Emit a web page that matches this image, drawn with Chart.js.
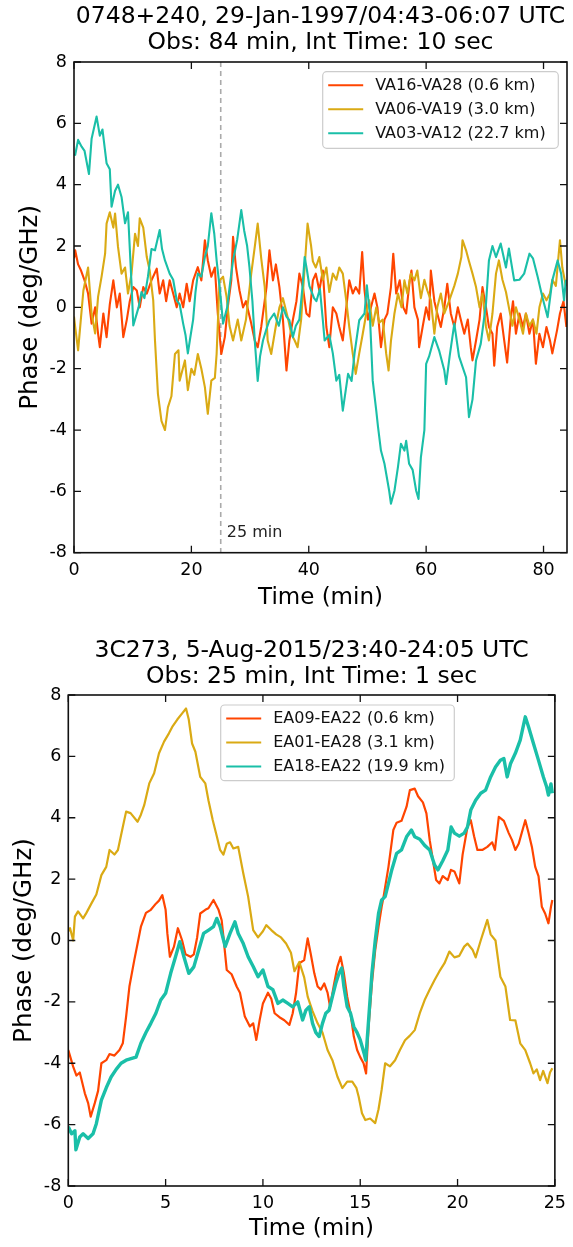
<!DOCTYPE html>
<html>
<head>
<meta charset="utf-8">
<script src="https://cdn.jsdelivr.net/npm/chart.js@4.4.1/dist/chart.umd.min.js"></script>
<style>
  html, body { margin: 0; padding: 0; background: #fff; }
  .panel { position: absolute; left: 0; width: 573px; }
  #panel-top { top: 0; height: 620px; }
  #panel-bottom { top: 620px; height: 627px; }
</style>
</head>
<body>
<div class="panel" id="panel-top"><canvas id="chart-top"></canvas></div>
<div class="panel" id="panel-bottom"><canvas id="chart-bottom"></canvas></div>
<script>
// ---- data: [time (min), phase (deg/GHz)] ----

// 0748+240, 1997 (VLA)
const va16va28 = [[0,1.6],[0.2,1.86],[0.7,1.4],[1.2,1.2],[1.8,0.88],[2.4,0.45],[3.0,-0.53],[3.6,0.0],[4.1,-0.86],[4.4,-1.3],[5.0,-0.2],[5.55,-0.97],[6.1,0.1],[6.7,0.88],[7.3,0.0],[7.8,0.45],[8.4,-0.97],[9.0,-0.4],[9.5,0.2],[10.1,0.66],[10.7,0.55],[11.2,0.0],[11.8,0.66],[12.4,0.45],[13.2,0.88],[14.1,1.26],[14.6,0.45],[15.2,0.88],[15.7,0.2],[16.3,0.88],[16.9,0.45],[17.5,0.0],[18.0,0.45],[18.6,0.0],[19.2,0.77],[19.7,0.2],[20.3,0.88],[21.1,1.31],[21.7,0.88],[22.3,2.19],[22.8,1.53],[23.4,1.0],[24.0,1.3],[24.5,-0.2],[25.1,-1.52],[25.7,-0.97],[26.2,0.0],[26.8,0.88],[27.1,2.3],[27.6,1.3],[28.2,0.55],[28.8,0.0],[29.3,0.2],[30.2,-0.53],[30.8,-1.08],[31.3,-1.3],[31.9,-0.64],[32.8,0.66],[33.3,1.86],[33.9,0.88],[34.4,1.4],[35.0,0.66],[35.6,-0.4],[36.2,-2.06],[36.7,-1.08],[37.3,-0.4],[37.9,0.2],[38.4,1.1],[39.0,0.66],[39.6,-0.2],[40.1,-0.3],[40.7,0.88],[41.2,1.1],[41.8,0.55],[42.4,1.2],[43.0,-0.64],[43.5,-1.3],[44.1,0.0],[44.7,-0.2],[45.2,-0.64],[45.8,-1.08],[46.4,0.0],[46.9,0.88],[47.5,0.45],[48.0,0.66],[48.6,0.45],[49.1,1.8],[49.5,0.55],[50.1,-0.4],[50.6,0.0],[51.2,0.45],[51.7,0.0],[52.3,-1.3],[52.9,-0.4],[53.4,-0.2],[54.0,0.66],[54.4,1.75],[54.9,0.45],[55.5,0.88],[56.1,0.0],[56.6,-0.2],[57.2,0.88],[57.5,1.2],[58.0,0.0],[58.6,-0.4],[58.8,-1.3],[59.4,-0.64],[60.0,0.0],[60.5,-0.4],[60.8,1.2],[61.4,0.2],[61.9,-0.2],[62.5,-0.64],[63.1,0.0],[63.6,0.77],[64.2,-0.2],[64.8,-0.64],[65.4,0.0],[65.9,-0.4],[66.5,-0.86],[67.1,-0.4],[67.6,-1.3],[67.9,-1.73],[68.5,-1.08],[69.1,-0.4],[69.6,0.66],[70.2,0.0],[70.7,-0.64],[71.3,-0.86],[71.6,-1.9],[72.1,-0.64],[72.7,-0.2],[73.3,-1.08],[73.8,-1.8],[74.4,-0.4],[74.8,0.2],[75.3,-0.86],[75.9,-0.2],[76.5,-0.64],[77.0,-0.2],[77.6,-0.86],[78.2,-0.4],[78.7,-1.84],[79.3,-0.86],[79.9,-1.3],[80.5,-0.64],[81.1,-1.08],[81.5,-1.5],[82.3,-0.75],[82.8,-0.2],[83.4,0.2],[83.9,-0.64]];

const va06va19 = [[0,-0.3],[0.2,-0.64],[0.7,-1.4],[1.6,0.55],[2.4,1.3],[3.0,-0.2],[3.6,-0.85],[4.1,0.34],[4.7,1.0],[5.3,1.75],[5.55,2.73],[6.1,3.1],[6.7,2.6],[7.0,3.06],[7.5,1.97],[8.1,1.1],[8.7,1.3],[9.2,0.45],[9.8,1.1],[10.4,2.4],[10.9,2.0],[11.2,2.9],[11.8,2.6],[12.4,1.64],[12.9,1.2],[13.5,0.23],[13.8,-1.08],[14.3,-2.82],[14.9,-3.7],[15.5,-4.0],[16.0,-3.26],[16.6,-2.9],[17.2,-1.52],[17.8,-1.4],[18.0,-2.39],[18.9,-1.73],[19.4,-2.7],[20.0,-2.0],[20.5,-2.2],[21.1,-1.52],[21.7,-2.0],[22.3,-2.6],[22.8,-3.47],[23.4,-2.39],[24.0,-2.3],[24.3,-1.52],[24.8,0.88],[25.4,1.0],[26.0,0.34],[26.5,-0.6],[27.1,-1.08],[27.9,-0.4],[28.5,-1.08],[29.3,-0.4],[30.2,1.1],[30.8,1.97],[31.3,2.73],[31.9,1.6],[32.5,0.66],[33.0,-1.08],[33.6,-1.52],[34.4,-0.6],[35.0,0.0],[35.6,0.3],[36.5,-0.4],[37.0,-0.86],[37.6,-1.08],[38.1,-1.3],[38.7,-0.4],[39.3,1.3],[39.8,2.73],[40.4,2.0],[40.7,1.5],[41.2,1.3],[41.8,1.64],[42.4,0.9],[43.0,1.3],[43.5,0.5],[44.1,1.1],[44.7,0.9],[45.2,1.3],[45.8,1.1],[46.4,0.2],[46.9,-0.64],[47.5,-1.52],[48.0,-2.17],[48.6,-1.5],[49.2,-0.86],[49.8,-0.2],[50.3,0.23],[50.9,-0.6],[51.5,0.0],[52.0,-0.5],[52.6,-0.4],[53.2,-1.52],[53.6,-2.06],[54.0,-1.1],[54.6,-0.2],[55.2,0.45],[55.8,0.0],[56.3,0.88],[56.8,0.45],[57.4,1.1],[58.0,0.88],[58.5,1.2],[59.1,0.3],[59.7,0.9],[60.2,0.55],[60.8,0.23],[61.4,-0.86],[61.9,0.0],[62.5,0.45],[63.1,-0.2],[63.9,0.2],[64.8,0.7],[65.4,1.1],[66.0,1.64],[66.2,2.19],[66.8,1.86],[67.3,1.5],[67.9,1.1],[68.5,0.66],[69.1,0.0],[69.6,0.45],[70.2,-0.64],[70.7,-1.08],[71.3,-0.2],[71.9,1.1],[72.4,1.53],[73.0,0.9],[73.6,0.5],[74.1,0.0],[74.7,-0.6],[75.3,0.0],[75.9,-0.4],[76.5,-0.86],[77.0,-0.2],[77.6,-0.6],[78.2,-0.4],[78.8,-0.86],[79.3,0.0],[79.9,0.45],[80.5,0.23],[81.1,0.45],[81.5,0.9],[82.1,0.7],[82.8,2.19],[83.2,1.3],[83.8,0.7]];

const va03va12 = [[0,5.0],[0.2,4.97],[0.7,5.46],[1.3,5.24],[1.8,5.1],[2.55,4.35],[3.0,5.5],[3.85,6.22],[4.4,5.6],[4.85,5.8],[5.55,4.7],[6.1,4.5],[6.4,3.28],[7.0,3.8],[7.5,4.0],[8.1,3.6],[8.7,2.74],[9.2,3.1],[9.8,0.78],[10.1,-0.59],[11.0,0.0],[11.5,0.5],[12.0,0.3],[12.6,1.0],[13.2,1.9],[13.8,1.86],[14.6,2.52],[15.0,1.9],[15.5,1.53],[16.3,1.1],[16.9,0.9],[17.5,0.23],[18.0,0.1],[18.6,-0.53],[19.0,-0.9],[19.4,-1.5],[19.8,-1.0],[20.3,-0.4],[20.7,0.5],[21.1,1.1],[21.7,1.0],[22.3,1.64],[22.8,2.0],[23.4,3.07],[23.9,2.4],[24.3,1.53],[24.9,0.5],[25.4,-0.53],[26.1,0.0],[26.6,0.8],[27.1,1.53],[27.8,2.2],[28.5,3.17],[29.0,2.5],[29.5,2.0],[29.9,1.3],[30.4,0.2],[30.8,-1.08],[31.3,-2.4],[31.7,-1.6],[32.2,-1.08],[32.8,-0.7],[33.3,-0.42],[34.1,-0.2],[34.9,-0.6],[35.6,0.0],[36.2,-0.3],[36.7,-0.42],[37.3,-0.97],[37.8,-0.6],[38.4,-0.4],[38.9,0.6],[39.3,1.64],[39.7,1.2],[40.1,0.7],[40.9,0.3],[41.3,0.2],[41.9,0.6],[42.4,-0.42],[42.7,-1.08],[43.5,-0.9],[44.1,-1.5],[44.7,-2.39],[45.2,-2.2],[45.8,-3.37],[46.7,-2.17],[47.3,-2.4],[47.8,-1.5],[48.6,-0.42],[49.5,-0.2],[49.9,0.72],[50.4,-0.2],[50.9,-2.39],[51.5,-3.37],[51.8,-3.9],[52.3,-4.67],[52.9,-5.1],[53.7,-5.98],[54.0,-6.4],[54.6,-5.98],[55.2,-5.2],[55.7,-4.45],[56.3,-4.67],[56.6,-4.35],[57.1,-5.1],[57.7,-5.3],[58.3,-5.98],[58.7,-6.25],[59.1,-4.9],[59.7,-4.0],[60.0,-1.84],[60.5,-1.6],[61.4,-0.97],[62.2,-1.4],[63.1,-2.06],[63.4,-2.5],[64.0,-1.6],[64.8,-0.53],[65.6,-1.6],[66.8,-2.28],[67.3,-3.58],[67.9,-3.0],[68.5,-1.73],[69.3,-1.19],[70.2,0.12],[70.7,1.53],[71.3,2.0],[71.9,1.64],[72.7,2.08],[73.6,1.3],[74.1,1.92],[75.0,0.88],[75.9,0.9],[76.7,1.1],[77.6,1.75],[78.2,1.6],[79.0,1.0],[79.8,0.34],[80.7,-0.32],[81.5,0.88],[82.4,1.53],[83.0,1.1],[83.5,0.23],[83.8,0.9]];

// 3C273, 2015 (VLA, EA antennas)
const ea09ea22 = [[0,-3.57],[0.25,-4.11],[0.42,-4.4],[0.59,-4.3],[0.85,-4.98],[1.02,-5.3],[1.15,-5.74],[1.36,-5.3],[1.53,-4.9],[1.7,-4.0],[1.95,-3.9],[2.12,-3.7],[2.37,-3.75],[2.63,-3.57],[2.8,-3.35],[2.97,-2.48],[3.14,-1.5],[3.39,-0.64],[3.56,-0.1],[3.73,0.45],[3.99,0.9],[4.24,1.0],[4.5,1.2],[4.66,1.3],[4.83,1.48],[5.0,1.0],[5.09,0.23],[5.22,-0.53],[5.43,-0.2],[5.63,0.4],[5.85,0.0],[6.02,-0.45],[6.28,-0.53],[6.45,-0.45],[6.62,0.1],[6.78,0.88],[7.04,1.0],[7.2,1.05],[7.46,1.32],[7.72,1.0],[7.88,0.66],[7.97,0.12],[8.14,-0.96],[8.39,-1.1],[8.65,-1.5],[8.82,-1.7],[9.07,-2.48],[9.33,-2.8],[9.5,-2.7],[9.66,-3.24],[9.83,-2.6],[10.0,-2.05],[10.26,-1.7],[10.43,-1.9],[10.6,-2.37],[10.85,-2.5],[11.1,-2.6],[11.36,-2.75],[11.53,-2.37],[11.7,-1.72],[11.87,-0.74],[12.12,-0.64],[12.3,0.07],[12.46,-0.45],[12.64,-1.07],[12.81,-1.5],[12.98,-1.6],[13.15,-1.4],[13.32,-1.7],[13.45,-2.16],[13.66,-1.4],[13.83,-0.85],[13.99,-0.53],[14.16,-1.07],[14.33,-1.83],[14.5,-2.37],[14.67,-3.13],[14.84,-3.57],[15.0,-3.8],[15.17,-4.0],[15.3,-4.33],[15.43,-2.81],[15.6,-1.4],[15.77,-0.31],[15.94,0.45],[16.1,1.1],[16.2,1.43],[16.45,2.4],[16.7,3.6],[16.87,3.84],[17.12,3.9],[17.38,4.36],[17.55,4.9],[17.8,4.95],[17.97,4.7],[18.22,4.5],[18.4,4.14],[18.57,3.27],[18.74,2.6],[18.9,1.97],[19.07,1.86],[19.24,2.1],[19.5,1.97],[19.66,2.3],[19.84,2.25],[20.09,1.86],[20.26,2.8],[20.51,3.7],[20.68,3.92],[20.85,3.4],[21.02,2.95],[21.27,2.95],[21.53,3.05],[21.78,3.2],[21.92,2.95],[22.12,4.03],[22.38,3.9],[22.63,3.5],[22.8,3.27],[22.97,2.95],[23.14,3.15],[23.48,3.92],[23.65,3.5],[23.82,3.05],[23.99,2.4],[24.16,2.1],[24.33,1.1],[24.5,0.88],[24.67,0.56],[24.8,1.1],[24.87,1.32]];

const ea01ea28 = [[0,0.3],[0.09,0.4],[0.25,0.0],[0.34,0.78],[0.5,0.95],[0.76,0.72],[0.93,0.9],[1.19,1.21],[1.44,1.5],[1.7,2.13],[1.95,2.4],[2.12,2.95],[2.37,2.8],[2.55,2.95],[2.8,3.7],[2.97,4.2],[3.2,4.15],[3.56,3.87],[3.73,4.1],[3.9,4.41],[4.16,5.12],[4.41,5.45],[4.66,6.1],[4.92,6.48],[5.17,6.75],[5.34,6.96],[5.6,7.2],[5.85,7.4],[6.05,7.56],[6.19,7.2],[6.36,6.42],[6.53,6.15],[6.78,5.33],[7.04,5.12],[7.2,4.57],[7.42,3.93],[7.63,3.4],[7.8,2.95],[7.97,2.8],[8.14,3.15],[8.31,3.2],[8.48,3.0],[8.73,3.05],[8.99,2.19],[9.24,1.43],[9.5,0.34],[9.75,0.1],[10.0,0.3],[10.17,0.5],[10.43,0.34],[10.68,0.2],[10.93,0.1],[11.19,-0.1],[11.44,-0.4],[11.62,-1.0],[11.87,-0.7],[12.12,-1.2],[12.3,-1.83],[12.55,-2.3],[12.81,-2.7],[13.06,-3.0],[13.32,-3.57],[13.57,-3.9],[13.83,-4.44],[14.08,-4.81],[14.33,-4.6],[14.59,-4.6],[14.8,-4.8],[14.92,-5.09],[15.09,-5.63],[15.26,-5.85],[15.51,-5.8],[15.77,-5.95],[15.94,-5.5],[16.1,-4.87],[16.28,-4.0],[16.53,-4.1],[16.79,-3.9],[17.04,-3.57],[17.3,-3.25],[17.55,-3.1],[17.8,-2.92],[18.06,-2.37],[18.31,-1.94],[18.57,-1.6],[18.82,-1.29],[19.07,-1.0],[19.33,-0.74],[19.58,-0.36],[19.84,-0.55],[20.09,-0.5],[20.34,-0.2],[20.51,-0.1],[20.77,-0.3],[20.93,-0.55],[21.19,0.0],[21.36,0.34],[21.53,0.67],[21.7,0.2],[21.95,0.0],[22.2,-1.18],[22.46,-1.5],[22.7,-2.59],[22.97,-2.6],[23.22,-3.35],[23.48,-3.57],[23.73,-4.0],[23.9,-4.33],[24.07,-4.2],[24.24,-4.55],[24.4,-4.25],[24.62,-4.65],[24.75,-4.3],[24.87,-4.16]];

const ea18ea22 = [[0,-6.07],[0.17,-6.3],[0.34,-6.2],[0.39,-6.82],[0.59,-6.4],[0.76,-6.3],[1.02,-6.45],[1.27,-6.3],[1.44,-5.97],[1.7,-5.2],[1.95,-4.8],[2.2,-4.45],[2.46,-4.2],[2.71,-4.0],[2.97,-3.9],[3.22,-3.85],[3.48,-3.8],[3.73,-3.35],[3.99,-3.0],[4.24,-2.7],[4.5,-2.37],[4.75,-1.94],[5.0,-1.72],[5.26,-1.07],[5.51,-0.53],[5.73,-0.04],[5.94,-0.53],[6.19,-1.07],[6.45,-0.86],[6.7,-0.31],[6.95,0.23],[7.21,0.34],[7.46,0.45],[7.63,0.72],[7.8,0.45],[8.06,-0.2],[8.31,0.23],[8.56,0.61],[8.73,0.23],[8.99,-0.1],[9.24,-0.53],[9.5,-0.85],[9.75,-1.18],[10.0,-0.96],[10.26,-1.5],[10.51,-1.6],[10.77,-2.05],[11.02,-1.94],[11.28,-2.05],[11.53,-2.16],[11.79,-2.0],[12.04,-2.59],[12.21,-2.27],[12.38,-2.16],[12.55,-2.7],[12.72,-3.0],[12.89,-3.13],[13.06,-2.7],[13.23,-2.37],[13.4,-2.27],[13.57,-1.83],[13.74,-1.4],[13.91,-1.07],[14.05,-0.9],[14.16,-1.5],[14.33,-2.16],[14.5,-2.37],[14.67,-2.81],[14.84,-3.0],[15.0,-3.24],[15.2,-3.68],[15.28,-3.9],[15.43,-2.59],[15.6,-1.07],[15.77,0.0],[15.94,0.88],[16.1,1.32],[16.28,1.43],[16.45,1.86],[16.62,2.3],[16.87,2.84],[17.12,2.95],[17.38,3.38],[17.63,3.6],[17.8,3.38],[18.06,3.3],[18.31,3.1],[18.57,2.95],[18.82,2.46],[18.99,2.3],[19.24,2.6],[19.5,2.95],[19.67,3.7],[19.84,3.5],[20.09,3.4],[20.34,3.5],[20.51,3.7],[20.68,4.25],[20.93,4.57],[21.19,4.8],[21.44,4.9],[21.7,5.33],[21.95,5.65],[22.2,5.87],[22.38,5.93],[22.55,5.33],[22.72,5.76],[22.97,6.1],[23.22,6.53],[23.48,7.29],[23.65,6.96],[23.9,6.42],[24.16,5.87],[24.41,5.33],[24.58,5.0],[24.67,4.74],[24.8,5.1],[24.87,4.8]];

const topTitle = ['0748+240, 29-Jan-1997/04:43-06:07 UTC', 'Obs: 84 min, Int Time: 10 sec'];
const bottomTitle = ['3C273, 5-Aug-2015/23:40-24:05 UTC', 'Obs: 25 min, Int Time: 1 sec'];
const topLabels = ['VA16-VA28 (0.6 km)', 'VA06-VA19 (3.0 km)', 'VA03-VA12 (22.7 km)'];
const bottomLabels = ['EA09-EA22 (0.6 km)', 'EA01-EA28 (3.1 km)', 'EA18-EA22 (19.9 km)'];
const markerTime = 25;

const FONT = 'DejaVu Sans';
const lineColors = ['#ff4500', '#daaa14', '#1abfa8'];

// frame, inward ticks on all sides, legend box and marker line
const decorPlugin = {
  id: 'decor',
  beforeDatasetsDraw(chart, args, opts) {
    if (opts.marker == null) return;
    const ctx = chart.ctx, a = chart.chartArea;
    const px = chart.scales.x.getPixelForValue(opts.marker);
    ctx.save();
    ctx.strokeStyle = '#aaaaaa';
    ctx.lineWidth = 1.6;
    ctx.setLineDash([5, 4]);
    ctx.beginPath();
    ctx.moveTo(px, a.top);
    ctx.lineTo(px, a.bottom);
    ctx.stroke();
    ctx.setLineDash([]);
    ctx.fillStyle = '#222';
    ctx.font = '16px "' + FONT + '"';
    ctx.textBaseline = 'middle';
    ctx.fillText(opts.markerText, px + 6, a.bottom - 20);
    ctx.restore();
  },
  afterDraw(chart, args, opts) {
    const ctx = chart.ctx, a = chart.chartArea;
    const xs = chart.scales.x, ys = chart.scales.y;
    ctx.save();
    ctx.strokeStyle = '#111';
    ctx.lineWidth = 1.6;
    ctx.strokeRect(a.left, a.top, a.right - a.left, a.bottom - a.top);
    const tl = 7;
    ctx.lineWidth = 1.3;
    ctx.beginPath();
    xs.ticks.forEach(t => {
      const p = xs.getPixelForValue(t.value);
      ctx.moveTo(p, a.bottom); ctx.lineTo(p, a.bottom - tl);
      ctx.moveTo(p, a.top); ctx.lineTo(p, a.top + tl);
    });
    ys.ticks.forEach(t => {
      const p = ys.getPixelForValue(t.value);
      ctx.moveTo(a.left, p); ctx.lineTo(a.left + tl, p);
      ctx.moveTo(a.right, p); ctx.lineTo(a.right - tl, p);
    });
    ctx.stroke();

    // legend
    const lg = opts.legend;
    const bx = lg.left, by = a.top + lg.top, bw = lg.width, bh = lg.height;
    ctx.fillStyle = 'rgba(255,255,255,0.85)';
    ctx.strokeStyle = '#cccccc';
    ctx.lineWidth = 1.2;
    ctx.beginPath();
    ctx.roundRect(bx, by, bw, bh, 4);
    ctx.fill();
    ctx.stroke();
    ctx.font = '16px "' + FONT + '"';
    ctx.textBaseline = 'middle';
    chart.data.datasets.forEach((ds, i) => {
      const y = by + 13.5 + i * 24;
      ctx.strokeStyle = ds.borderColor;
      ctx.lineWidth = 2;
      ctx.beginPath();
      ctx.moveTo(bx + 5.5, y);
      ctx.lineTo(bx + 40.5, y);
      ctx.stroke();
      ctx.fillStyle = '#111';
      ctx.fillText(ds.label, bx + 52.5, y + 0.5);
    });
    ctx.restore();
  }
};

function buildChart(canvasId, cfg) {
  return new Chart(document.getElementById(canvasId), {
    type: 'line',
    data: {
      datasets: cfg.series.map((s, i) => ({
        label: cfg.labels[i],
        data: s.map(p => ({ x: p[0], y: p[1] })),
        borderColor: lineColors[i],
        borderWidth: cfg.widths[i],
        borderJoinStyle: 'round',
        pointRadius: 0,
        tension: 0,
        fill: false,
        order: 2 - i
      }))
    },
    options: {
      responsive: true,
      maintainAspectRatio: false,
      devicePixelRatio: 1,
      animation: false,
      events: [],
      layout: { padding: { left: 0, right: cfg.rightPad, top: 0, bottom: 0 } },
      plugins: {
        legend: { display: false },
        tooltip: { enabled: false },
        title: {
          display: true,
          text: cfg.title,
          fullSize: false,
          color: '#000',
          font: { family: FONT, size: 23.5, weight: 'normal', lineHeight: 1.1 },
          padding: cfg.titlePad
        },
        decor: { marker: cfg.marker, markerText: '25 min', legend: cfg.legend }
      },
      scales: {
        x: {
          type: 'linear',
          min: 0,
          max: cfg.xMax,
          afterFit: s => { s.height = cfg.xAxisHeight; },
          grid: { display: false, drawTicks: false },
          border: { display: false },
          ticks: {
            stepSize: cfg.xStep,
            includeBounds: false,
            maxRotation: 0,
            padding: 7,
            color: '#000',
            font: { family: FONT, size: 17.5 }
          },
          title: {
            display: true,
            text: 'Time (min)',
            color: '#000',
            font: { family: FONT, size: 23, weight: 'normal' },
            padding: { top: 0, bottom: cfg.xTitlePad }
          }
        },
        y: {
          min: -8,
          max: 8,
          afterFit: s => { s.width = cfg.yAxisWidth; },
          grid: { display: false, drawTicks: false },
          border: { display: false },
          ticks: {
            stepSize: 2,
            padding: 7,
            color: '#000',
            font: { family: FONT, size: 17.5 }
          },
          title: {
            display: true,
            text: 'Phase (deg/GHz)',
            color: '#000',
            font: { family: FONT, size: 24.5, weight: 'normal' },
            padding: { top: cfg.yTitlePad, bottom: 0 }
          }
        }
      }
    },
    plugins: [decorPlugin]
  });
}

buildChart('chart-top', {
  series: [va16va28, va06va19, va03va12],
  labels: topLabels,
  widths: [2.1, 2.1, 2.1],
  title: topTitle,
  titlePad: { top: 4, bottom: 6.3 },
  xMax: 84,
  xStep: 20,
  rightPad: 6,
  xAxisHeight: 67.3,
  xTitlePad: 8.2,
  yAxisWidth: 74,
  yTitlePad: 15.5,
  marker: markerTime,
  legend: { left: 322.7, top: 9.7, width: 235.6, height: 76.6 }
});

buildChart('chart-bottom', {
  series: [ea09ea22, ea01ea28, ea18ea22],
  labels: bottomLabels,
  widths: [2.2, 2.2, 3.4],
  title: bottomTitle,
  titlePad: { top: 18, bottom: 5.3 },
  xMax: 25,
  xStep: 5,
  rightPad: 12,
  xAxisHeight: 61,
  xTitlePad: 4.2,
  yAxisWidth: 68.3,
  yTitlePad: 9.5,
  marker: null,
  legend: { left: 220.7, top: 10, width: 233.6, height: 75.7 }
});
</script>
</body>
</html>
